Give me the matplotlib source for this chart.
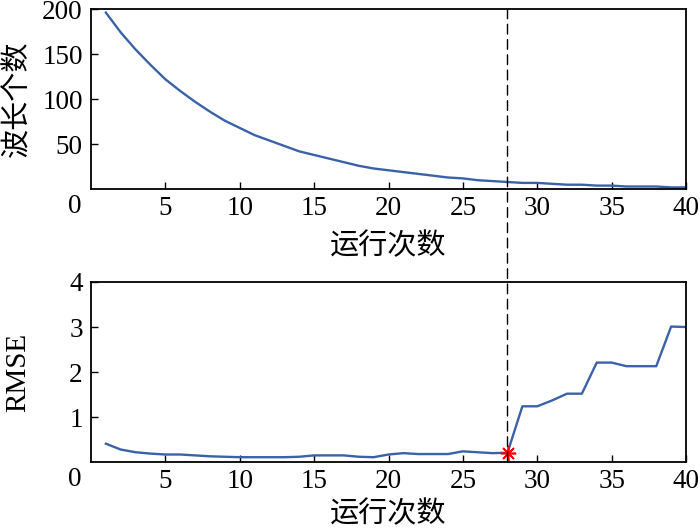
import numpy as np
import matplotlib.pyplot as plt
import matplotlib.transforms as mtransforms
from matplotlib.patches import ConnectionPatch

plt.rcParams['font.family'] = ['Liberation Serif', 'Noto Sans CJK SC']
plt.rcParams['axes.unicode_minus'] = False

# 运行次数
runs = list(range(1, 41))
# 每次运行保留的波长个数
n_wave = [196, 174, 155, 138, 122, 109, 97, 86, 76, 68,
          60, 54, 48, 42, 38, 34, 30, 26, 23, 21,
          19, 17, 15, 13, 12, 10, 9, 8, 7, 7,
          6, 5, 5, 4, 4, 3, 3, 3, 2, 2]
# 每次运行的 RMSE
rmse = [0.41, 0.28, 0.22, 0.19, 0.17, 0.17, 0.15, 0.13, 0.12, 0.11,
        0.11, 0.11, 0.11, 0.12, 0.15, 0.15, 0.15, 0.12, 0.11, 0.17,
        0.20, 0.18, 0.18, 0.18, 0.24, 0.22, 0.20, 0.21, 1.24, 1.24,
        1.37, 1.52, 1.52, 2.21, 2.21, 2.13, 2.13, 2.13, 3.01, 3.00]
best_run = 28

line_color = '#3a62a8'
tick_fs = 19.5
label_fs = 21

fig = plt.figure(figsize=(7, 5.3), dpi=100)
ax1 = fig.add_axes([0.130, 0.643, 0.850, 0.340])
ax2 = fig.add_axes([0.130, 0.128, 0.850, 0.340])

ax1.plot(runs, n_wave, color=line_color, lw=1.7)
ax2.plot(runs, rmse, color=line_color, lw=1.7)
ax2.plot(best_run, rmse[best_run - 1], ls='none', marker=(8, 2, 0),
         color='red', markersize=11, mew=1.2)

ax1.set_ylim(0, 200)
ax1.set_yticks([50, 100, 150, 200])
ax2.set_ylim(0, 4)
ax2.set_yticks([1, 2, 3, 4])

for ax in (ax1, ax2):
    ax.set_xlim(0, 40)
    ax.set_xticks(range(5, 45, 5))
    ax.tick_params(direction='in', length=5, width=1, labelsize=tick_fs)
    ax.tick_params(axis='x', pad=5)
    ax.tick_params(axis='y', pad=6)
    for s in ax.spines.values():
        s.set_linewidth(1.3)
    # 左下角的 0
    off = mtransforms.ScaledTranslation(-16 / 100, -5 / 100, fig.dpi_scale_trans)
    ax.text(0, 0, '0', transform=ax.transAxes + off, ha='center', va='top',
            fontsize=tick_fs)
    ax.set_xlabel('运行次数', fontsize=label_fs)

ax1.xaxis.set_label_coords(0.5, -0.24)
ax2.xaxis.set_label_coords(0.5, -0.215)

ax1.set_ylabel('波长个数', fontsize=label_fs)
ax2.set_ylabel('RMSE', fontsize=label_fs)
ax1.yaxis.set_label_coords(-0.100, 0.5)
ax2.yaxis.set_label_coords(-0.100, 0.5)

# 竖直虚线贯穿两个子图
con = ConnectionPatch(xyA=(best_run, 200), coordsA=ax1.transData,
                      xyB=(best_run, 0), coordsB=ax2.transData,
                      color='black', ls=(0, (7, 4)), lw=1.0)
fig.add_artist(con)

fig.savefig('out.png', dpi=100)
